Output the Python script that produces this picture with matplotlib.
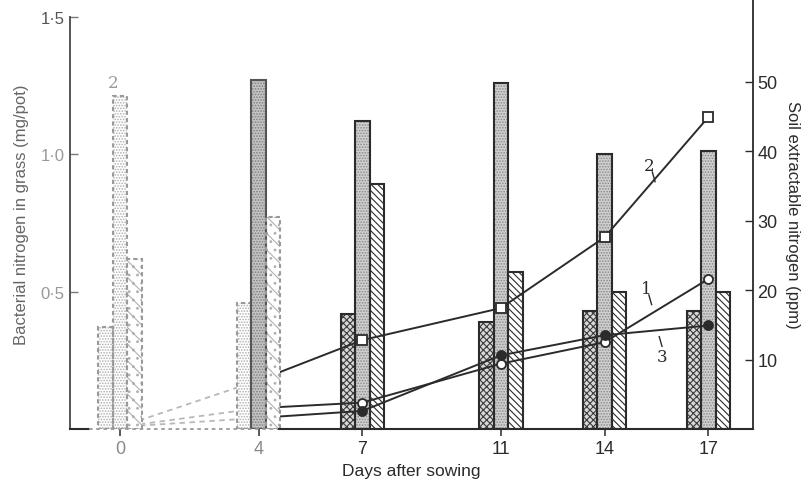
import matplotlib
matplotlib.use("Agg")
import matplotlib.pyplot as plt
import numpy as np

# ---- data -------------------------------------------------------------
days = [0, 4, 7, 11, 14, 17]

# bacterial nitrogen in grass (mg/pot), three treatments per sampling day
bar_1 = [0.37, 0.46, 0.42, 0.39, 0.43, 0.43]
bar_2 = [1.21, 1.27, 1.12, 1.26, 1.00, 1.01]
bar_3 = [0.62, 0.77, 0.89, 0.57, 0.50, 0.50]

# soil extractable nitrogen (ppm)
soil_1 = [0.3, 3.0, 3.8, 9.4, 12.5, 21.6]
soil_2 = [0.3, 7.0, 12.8, 17.4, 27.6, 44.9]
soil_3 = [0.3, 1.6, 2.6, 10.6, 13.5, 14.9]

left_ticks = [0.5, 1.0, 1.5]
left_ticklabels = ["0·5", "1·0", "1·5"]
right_ticks = [10, 20, 30, 40, 50]

# ---- figure -----------------------------------------------------------
plt.rcParams["font.family"] = ["Liberation Sans", "DejaVu Sans"]
plt.rcParams["hatch.linewidth"] = 0.8

W, H = 805, 489
fig = plt.figure(figsize=(W / 100, H / 100), dpi=100)
ax = fig.add_axes([70 / W, (H - 430) / H, (753 - 70) / W, 430 / H])
ax2 = ax.twinx()

ax.set_xlim(-1.45, 18.29)
ax.set_ylim(0, 1.564)
ax2.set_ylim(0, 61.9)
ax2.set_zorder(ax.get_zorder() + 1)
ax2.patch.set_visible(False)

ink = "#2b2b2b"
faint = "#9a9a9a"
bw = 0.42

# bars: the two early samplings are printed faintly and sit over the lines,
# so they are added to the upper axes but placed with the left-axis scale
for i, d in enumerate(days):
    early = d < 5
    host = ax2 if early else ax
    specs = [
        (d - bw, bar_1[i], "xxxxx", "#d8d8d8", "#3a3a3a"),
        (d, bar_2[i], "......", "#d0d0d0", "#8a8a8a"),
        (d + bw, bar_3[i], "\\\\\\\\\\", "white", ink),
    ]
    for k, (x, h, hatch, fc, hc) in enumerate(specs):
        if early:
            strong = (d == 4 and k == 1)
            fc = "#c4c4c4" if strong else "white"
            hc = "#808080" if strong else "#b0b0b0"
            hatch = "......" if k != 2 else "..\\\\"
            ec = "#555555" if strong else faint
            ls = "-" if strong else (0, (2, 1.5))
        else:
            ec = ink
            ls = "-"
        host.bar(x, h, width=bw, color=fc, hatch=hatch, edgecolor=hc,
                 linewidth=0, zorder=1, transform=ax.transData)
        host.bar(x, h, width=bw, fill=False, edgecolor=ec, linewidth=1.5,
                 linestyle=ls, zorder=1.1, transform=ax.transData)

ax.text(days[0] - 0.2, bar_2[0] + 0.02, "2", ha="center", va="bottom",
        fontsize=12, color=faint, family="DejaVu Serif")

# soil nitrogen lines: faint dotted start, solid from day 4 onwards
series = [
    (soil_1, "o", "white"),
    (soil_2, "s", "white"),
    (soil_3, "o", ink),
]
for vals, mk, mfc in series:
    ax2.plot(days[:2], vals[:2], color="#b8b8b8", lw=1.3,
             linestyle=(0, (3, 2.5)), zorder=0.5)
    ax2.plot(days[1:], vals[1:], color=ink, lw=1.4, zorder=0.6)
    ax2.plot(days[2:], vals[2:], linestyle="none", marker=mk, ms=6.5,
             mfc=mfc, mec=ink, mew=1.3, zorder=3)

# line labels with short leader ticks
for txt, x, y, lx, ly in [("2", 15.3, 38.0, 15.42, 36.3),
                          ("1", 15.2, 20.2, 15.32, 18.6),
                          ("3", 15.65, 10.4, 15.62, 12.6)]:
    ax2.text(x, y, txt, ha="center", va="center", fontsize=12, color=ink,
             family="DejaVu Serif", zorder=5)
    ax2.plot([lx - 0.04, lx + 0.04], [ly + 0.7, ly - 0.7], color=ink,
             lw=1.0, zorder=5)

# ---- axes styling -----------------------------------------------------
for a in (ax, ax2):
    a.spines["top"].set_visible(False)
    a.spines["bottom"].set_visible(False)
ax.spines["right"].set_visible(False)
ax2.spines["left"].set_visible(False)

ax.spines["left"].set_bounds(0, 1.5)
ax.spines["left"].set_color("#555555")
ax.spines["left"].set_linewidth(1.4)
ax.spines["left"].set_linestyle((0, (5, 1)))
ax2.spines["right"].set_color(ink)
ax2.spines["right"].set_linewidth(1.3)

# baseline: solid at the ends, faint across the early samplings
ax2.plot([-1.45, -0.9], [0, 0], color=ink, lw=1.5, zorder=6, clip_on=False)
ax2.plot([-0.9, 4.6], [0, 0], color=faint, lw=1.3, linestyle=(0, (2, 2)),
         zorder=6, clip_on=False)
ax2.plot([4.6, 18.29], [0, 0], color=ink, lw=1.5, zorder=6, clip_on=False)

ax.set_xticks(days)
ax.set_xticklabels([str(d) for d in days])
ax.tick_params(axis="x", direction="out", length=5, width=1.1, color=ink,
               labelsize=13, labelcolor=ink, pad=3)
for lbl in ax.get_xticklabels()[:2]:
    lbl.set_color("#8a8a8a")

ax.set_yticks(left_ticks)
ax.set_yticklabels(left_ticklabels)
ax.tick_params(axis="y", direction="in", length=6, width=1.0, color="#777777",
               labelsize=12, labelcolor="#999999", pad=4)
ax.get_yticklabels()[-1].set_color("#555555")

ax2.set_yticks(right_ticks)
ax2.tick_params(axis="y", direction="in", length=6, width=1.0, color=ink,
                labelsize=13, labelcolor=ink, pad=3)

ax.set_xlabel("Days after sowing", fontsize=12.5, color=ink, labelpad=4)
ax.set_ylabel("Bacterial nitrogen in grass (mg/pot)", fontsize=12,
              color="#666666", labelpad=8)
ax2.set_ylabel("Soil extractable nitrogen (ppm)", fontsize=12, color=ink,
               rotation=270, labelpad=16)

fig.savefig("out.png", dpi=100)
